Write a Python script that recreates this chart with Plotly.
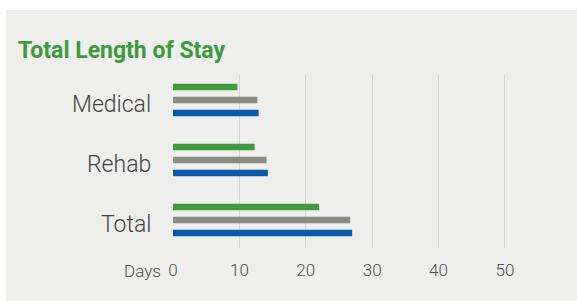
import plotly.graph_objects as go

categories = ["Medical", "Rehab", "Total"]
series_green = [9.7, 12.3, 22.0]
series_grey = [12.7, 14.1, 26.7]
series_blue = [12.9, 14.3, 27.0]
tick_vals = [0, 10, 20, 30, 40, 50]
tick_text = ["0", "10", "20", "30", "40", "50"]
axis_unit = "Days"

W, H = 577, 301
ML, MR, MT, MB = 173, 19, 75, 53
PW, PH = W - ML - MR, H - MT - MB

fig = go.Figure()
for name, vals, col in [("Blue", series_blue, "#0a58a8"),
                        ("Grey", series_grey, "#898a80"),
                        ("Green", series_green, "#40993d")]:
    fig.add_trace(go.Bar(y=categories, x=vals, orientation="h", name=name,
                         marker=dict(color=col, line=dict(width=0))))

# background panel (white strip at top and left)
fig.add_shape(type="rect", xref="paper", yref="paper", layer="below",
              x0=(6 - ML) / PW, x1=(W - ML) / PW,
              y0=-MB / PH - 0.02, y1=(H - MB - 10) / PH,
              fillcolor="#eeeeec", line=dict(width=0))

# category labels as annotations (slightly below category centre)
for c in categories:
    fig.add_annotation(x=0, xref="paper", y=c, yref="y", text=c,
                       showarrow=False, xanchor="right", yanchor="middle",
                       xshift=-20, yshift=-4,
                       font=dict(size=23, color="#444444", family="Roboto", weight=300))

fig.add_annotation(x=0, xref="x", y=0, yref="paper", text=axis_unit,
                   showarrow=False, xanchor="right", yanchor="top",
                   xshift=-10, yshift=-11,
                   font=dict(size=17, color="#505050", family="Roboto", weight=300))

top_off = 25 / 60
fig.update_layout(
    width=W, height=H,
    margin=dict(l=ML, r=MR, t=MT, b=MB),
    paper_bgcolor="white", plot_bgcolor="rgba(0,0,0,0)",
    barmode="group", bargap=0.35, bargroupgap=0.5,
    showlegend=False,
    font=dict(family="Roboto", color="#505050"),
    title=dict(text="<b>Total Length of Stay</b>", x=18 / W, xanchor="left",
               y=1 - 50 / H, yanchor="middle",
               font=dict(size=23, color="#3d9a3d", family="Roboto")),
    xaxis=dict(range=[0, 58], tickvals=tick_vals, ticktext=tick_text,
               showgrid=True, gridcolor="#d4d4d2", gridwidth=1.3,
               zeroline=False, showline=False, ticks="",
               tickfont=dict(size=17, color="#505050", weight=300),
               ticklabelstandoff=10),
    yaxis=dict(categoryorder="array", categoryarray=["Total", "Rehab", "Medical"],
               range=[2 + top_off - PH / 60, 2 + top_off],
               showgrid=False, zeroline=False, showline=False, ticks="",
               showticklabels=False),
)
fig.write_html("out.html", config={"displayModeBar": False},
               post_script="document.body.style.margin='0';")
